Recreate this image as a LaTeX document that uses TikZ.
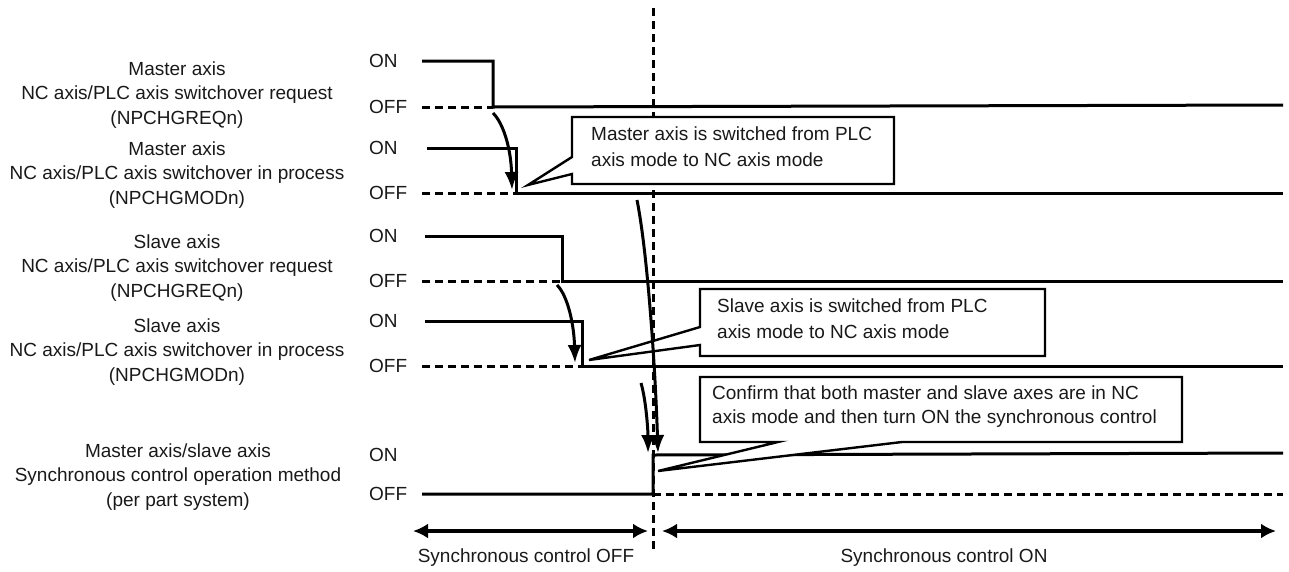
\documentclass[tikz,border=0pt]{standalone}
\usepackage{fontspec}
\setmainfont{Liberation Sans}
\usetikzlibrary{arrows.meta}
\begin{document}
\begin{tikzpicture}[x=1pt,y=-1pt,
  lbl/.style={font=\fontsize{19}{24.5}\selectfont, inner sep=0pt, text=black!90},
  sig/.style={line width=3pt, line join=miter},
  offdash/.style={line width=3pt, dash pattern=on 8pt off 5pt},
  callout/.style={draw, line width=2.4pt, fill=white, line join=miter},
  curvearrow/.style={line width=3pt, -{Latex[length=18pt,width=14pt]}},
  spanarrow/.style={line width=3.2pt, {Latex[length=15pt,width=15pt]}-{Latex[length=15pt,width=15pt]}}
]
\useasboundingbox (0,0) rectangle (1289,571);

% left labels
\node[lbl, align=center] (l1) at (177,95) {Master axis\\NC axis/PLC axis switchover request\\(NPCHGREQn)};
\node[lbl, align=center] (l2) at (177,175) {Master axis\\NC axis/PLC axis switchover in process\\(NPCHGMODn)};
\node[lbl, align=center] (l3) at (177,268) {Slave axis\\NC axis/PLC axis switchover request\\(NPCHGREQn)};
\node[lbl, align=center] (l4) at (177,352) {Slave axis\\NC axis/PLC axis switchover in process\\(NPCHGMODn)};
\node[lbl, align=center] (l5) at (178,477) {Master axis/slave axis\\Synchronous control operation method\\(per part system)};

% ON / OFF labels
\foreach \n/\on/\off in {1/61/107, 2/148/193, 3/236/281, 4/321/366, 5/455/494}{
  \node[lbl, anchor=west] (on\n) at (369,\on) {ON};
  \node[lbl, anchor=west] (off\n) at (369,\off) {OFF};
}

% time marker
\coordinate (vt) at (653,8);
\coordinate (vb) at (653,552);
\draw[offdash] (vt) -- (vb);

% signal coordinates
\coordinate (f1t) at (493,61);  \coordinate (f1b) at (493,107);
\coordinate (f2t) at (516,148); \coordinate (f2b) at (516,193);
\coordinate (f3t) at (562,236); \coordinate (f3b) at (562,281);
\coordinate (f4t) at (582,321); \coordinate (f4b) at (582,366);
\coordinate (r5b) at (653,494); \coordinate (r5t) at (653,455);

% signals
\draw[sig] (422,61) -- (f1t) -- (f1b) -- (1283,105);
\draw[offdash] (422,107) -- (f1b);
\draw[sig] (427,148) -- (f2t) -- (f2b) -- (1283,193);
\draw[offdash] (422,193) -- (f2b);
\draw[sig] (425,236) -- (f3t) -- (f3b) -- (1283,281);
\draw[offdash] (422,281) -- (f3b);
\draw[sig] (425,321) -- (f4t) -- (f4b) -- (1283,366);
\draw[offdash] (422,366) -- (f4b);
\draw[sig] (422,494) -- (r5b) -- (r5t) -- (1283,453);
\draw[offdash] (r5b) -- (1283,494);

% callouts
\draw[callout] (572,117) -- (894,117) -- (894,184) -- (572,184) -- (572,174) -- (528,185) -- (572,157) -- cycle;
\node[lbl, anchor=west] (c1a) at (591,134) {Master axis is switched from PLC};
\node[lbl, anchor=west] (c1b) at (591,160) {axis mode to NC axis mode};

\draw[callout] (700,289) -- (1045,289) -- (1045,356) -- (700,356) -- (700,345) -- (589,360) -- (700,327) -- cycle;
\node[lbl, anchor=west] (c2a) at (717,306) {Slave axis is switched from PLC};
\node[lbl, anchor=west] (c2b) at (717,332) {axis mode to NC axis mode};

\draw[callout] (700,377) -- (1182,377) -- (1182,442) -- (902,442) -- (658,471) -- (778,442) -- (700,442) -- cycle;
\node[lbl, anchor=west] (c3a) at (712,393) {Confirm that both master and slave axes are in NC};
\node[lbl, anchor=west] (c3b) at (712,419) {axis mode and then turn ON the synchronous control};

% curved arrows
\coordinate (aS) at (493,113); \coordinate (aE) at (512,190);
\coordinate (bS) at (557,285); \coordinate (bE) at (575,363);
\coordinate (cS) at (637,200); \coordinate (cE) at (658,453);
\coordinate (dS) at (641,383); \coordinate (dE) at (648,453);
\draw[curvearrow] (aS) .. controls (504,124) and (511,150) .. (aE);
\draw[curvearrow] (bS) .. controls (568,296) and (574,325) .. (bE);
\draw[curvearrow] (cS) .. controls (647,250) and (655,360) .. (cE);
\draw[curvearrow] (dS) .. controls (646,400) and (648,430) .. (dE);

% spans
\coordinate (s1a) at (413,531); \coordinate (s1b) at (648,531);
\coordinate (s2a) at (662,531); \coordinate (s2b) at (1276,531);
\draw[spanarrow] (s1a) -- (s1b);
\draw[spanarrow] (s2a) -- (s2b);
\node[lbl] (soff) at (526,558) {Synchronous control OFF};
\node[lbl] (son) at (944,558) {Synchronous control ON};
\end{tikzpicture}
\end{document}
